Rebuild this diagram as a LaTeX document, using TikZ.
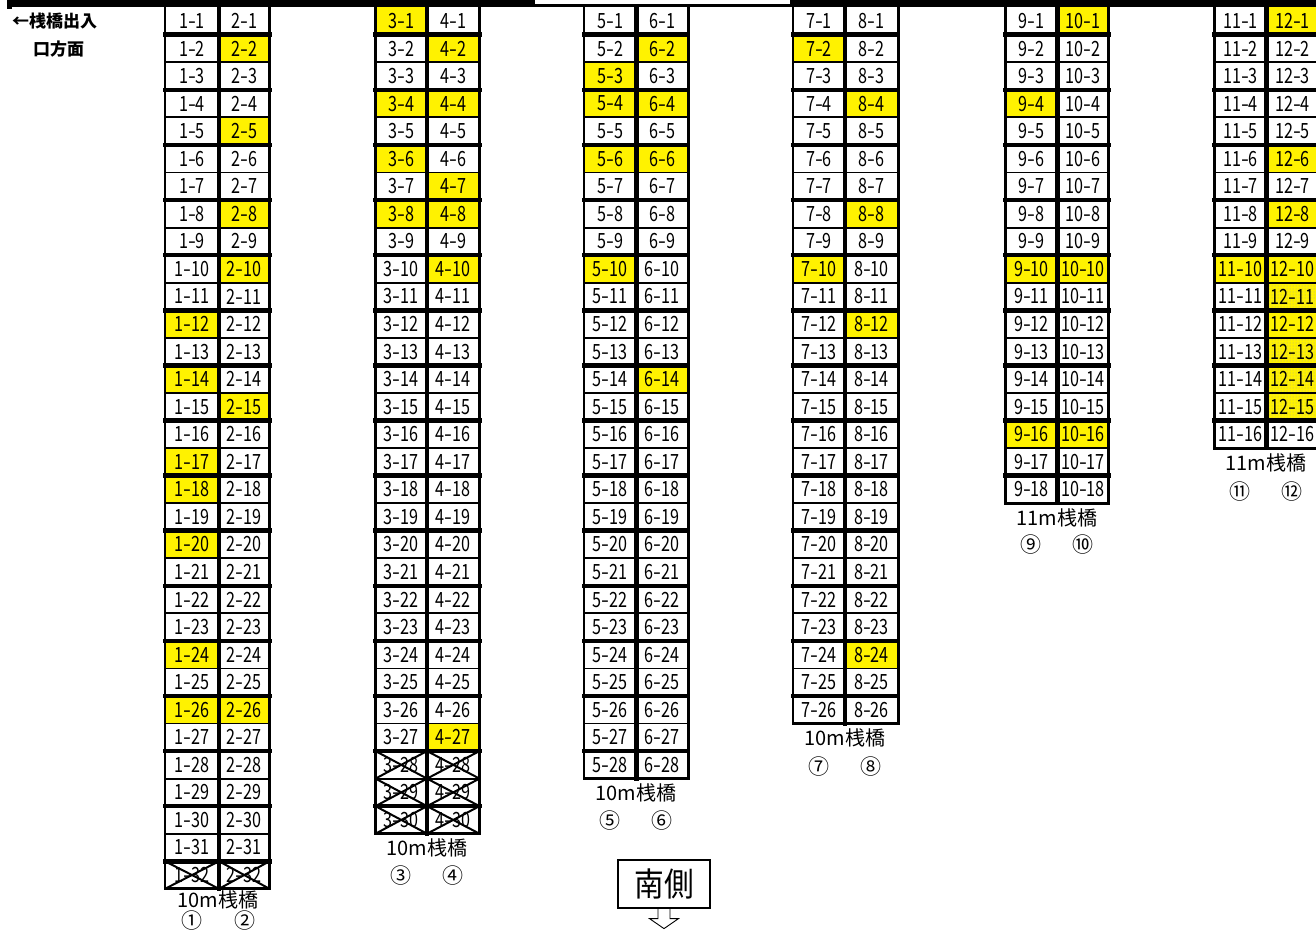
\documentclass[tikz,border=0pt]{standalone}
\usepackage{fontspec}
\usepackage{graphicx}
\setmainfont{Noto Sans CJK JP}
\newfontfamily\cellfont[FakeStretch=0.77]{Noto Sans CJK JP}
\usetikzlibrary{patterns,calc}

\makeatletter
\newcommand\markset[2]{\@for\mk:=#2\do{\expandafter\gdef\csname #1:\mk\endcsname{}}}
\makeatother

\def\rowh{27.55}
\def\ytop{7.2}
\newcommand\hy{\scalebox{1.4}[1]{-}}

\tikzset{
  cell/.style={inner sep=0pt, outer sep=0pt, minimum height=\rowh pt,
    font=\fontsize{21}{21}\cellfont},
  crossline/.style={line width=2pt},
  gridline/.style={line cap=rect},
  caption/.style={inner sep=0pt, font=\fontsize{20}{20}\selectfont},
  circnum/.style={inner sep=0pt, font=\fontsize{21}{21}\selectfont},
  lefttext/.style={inner sep=0pt, anchor=west, font=\fontsize{17}{17}\selectfont\bfseries}
}

\newcommand\pcell[4]{%
  \pgfmathsetmacro\pcx{(#3+#4)/2}%
  \pgfmathsetmacro\pcw{#4-#3}%
  \pgfmathsetmacro\pcy{\ytop+(#2-0.5)*\rowh}%
  \def\pcfill{white}%
  \ifcsname yel:#1-#2\endcsname\def\pcfill{yellow}\fi
  \ifcsname dot:#1-#2\endcsname
    \node[cell,fill=yellow,minimum width=\pcw pt,postaction={pattern=dots,pattern color=black!35}] (c#1-#2) at (\pcx,\pcy) {#1\hy#2};
  \else
    \node[cell,fill=\pcfill,minimum width=\pcw pt] (c#1-#2) at (\pcx,\pcy) {#1\hy#2};
  \fi
  \ifcsname x:#1-#2\endcsname
    \draw[crossline] (c#1-#2.north west) -- (c#1-#2.south east) (c#1-#2.north east) -- (c#1-#2.south west);
  \fi
}

\newcommand\pblock[6]{%
  \foreach \r in {1,...,#6}{\pcell{#1}{\r}{#3}{#4}\pcell{#2}{\r}{#4}{#5}}
  \foreach \r in {1,...,#6}{%
    \ifnum\r=#6 \def\lw{3}\else\ifodd\r \def\lw{4.5}\else\def\lw{1.8}\fi\fi
    \draw[gridline,line width=\lw pt] (c#1-\r.south west) -- (c#2-\r.south east);
  }
  \draw[gridline,line width=2.5pt] (c#1-1.north west) -- (c#1-#6.south west);
  \draw[gridline,line width=4.5pt] (c#2-1.north west) -- (c#2-#6.south west);
  \draw[gridline,line width=3pt] (c#2-1.north east) -- (c#2-#6.south east);
}

\markset{yel}{1-12,1-14,1-17,1-18,1-20,1-24,1-26,2-2,2-5,2-8,2-10,2-15,2-26,3-1,3-4,3-6,3-8,4-2,4-4,4-7,4-8,4-10,4-27,5-3,5-4,5-6,5-10,6-2,6-4,6-6,6-14,7-2,7-10,8-4,8-8,8-12,8-24,9-4,9-10,9-16,10-1,10-10,10-16,11-10,12-1,12-6,12-8,12-10,12-12}
\markset{dot}{12-11,12-13,12-14,12-15}
\markset{x}{1-32,2-32,3-28,3-29,3-30,4-28,4-29,4-30}

\begin{document}
\begin{tikzpicture}[x=1pt,y=-1pt]
\useasboundingbox (0,0) rectangle (1316,931);
\fill[white] (0,0) rectangle (1316,931);

% top band
\fill[black] (7,0) rectangle (1316,7.5);
\fill[black] (7,0) rectangle (12,9.5);
\fill[white] (535,0) rectangle (790,4.2);

% left text
\node[lefttext] (entr1) at (12,21.5) {←桟橋出入};
\node[lefttext] (entr2) at (33,49) {口方面};

% blocks
\pblock{1}{2}{165}{219}{269.5}{32}
\pblock{3}{4}{375.5}{427}{479.5}{30}
\pblock{5}{6}{584}{636.5}{688}{28}
\pblock{7}{8}{793}{845}{898}{26}
\pblock{9}{10}{1005.5}{1057.5}{1108.5}{18}
\pblock{11}{12}{1214.5}{1266.5}{1318.5}{16}

% captions
\node[caption] (cap12) at (218,900) {10m桟橋};
\node[circnum] (n1) at (192,921) {①};
\node[circnum] (n2) at (245,921) {②};
\node[caption] (cap34) at (427,848) {10m桟橋};
\node[circnum] (n3) at (401,876) {③};
\node[circnum] (n4) at (453,876) {④};
\node[caption] (cap56) at (636,792.5) {10m桟橋};
\node[circnum] (n5) at (610,820.5) {⑤};
\node[circnum] (n6) at (662,820.5) {⑥};
\node[caption] (cap78) at (845,737.5) {10m桟橋};
\node[circnum] (n7) at (819,766.5) {⑦};
\node[circnum] (n8) at (871,766.5) {⑧};
\node[caption] (cap910) at (1057,517.5) {11m桟橋};
\node[circnum] (n9) at (1031,545) {⑨};
\node[circnum] (n10) at (1083,545) {⑩};
\node[caption] (cap1112) at (1266,463) {11m桟橋};
\node[circnum] (n11) at (1240,492) {⑪};
\node[circnum] (n12) at (1292,492) {⑫};

% south box and arrow
\node[draw, line width=1.2pt, inner sep=0pt, minimum width=92pt, minimum height=48pt,
      font=\fontsize{33}{34}\selectfont\addfontfeatures{FakeStretch=0.9}] (south) at (664,884) {南側};
\draw[line width=0.9pt, line join=miter]
  ($(south.south)+(-6,0)$) -- ++(0,10) -- ++(-8.5,0) -- ++(14.5,10)
  -- ++(14.5,-10) -- ++(-8.5,0) -- ++(0,-10);
\end{tikzpicture}
\end{document}
